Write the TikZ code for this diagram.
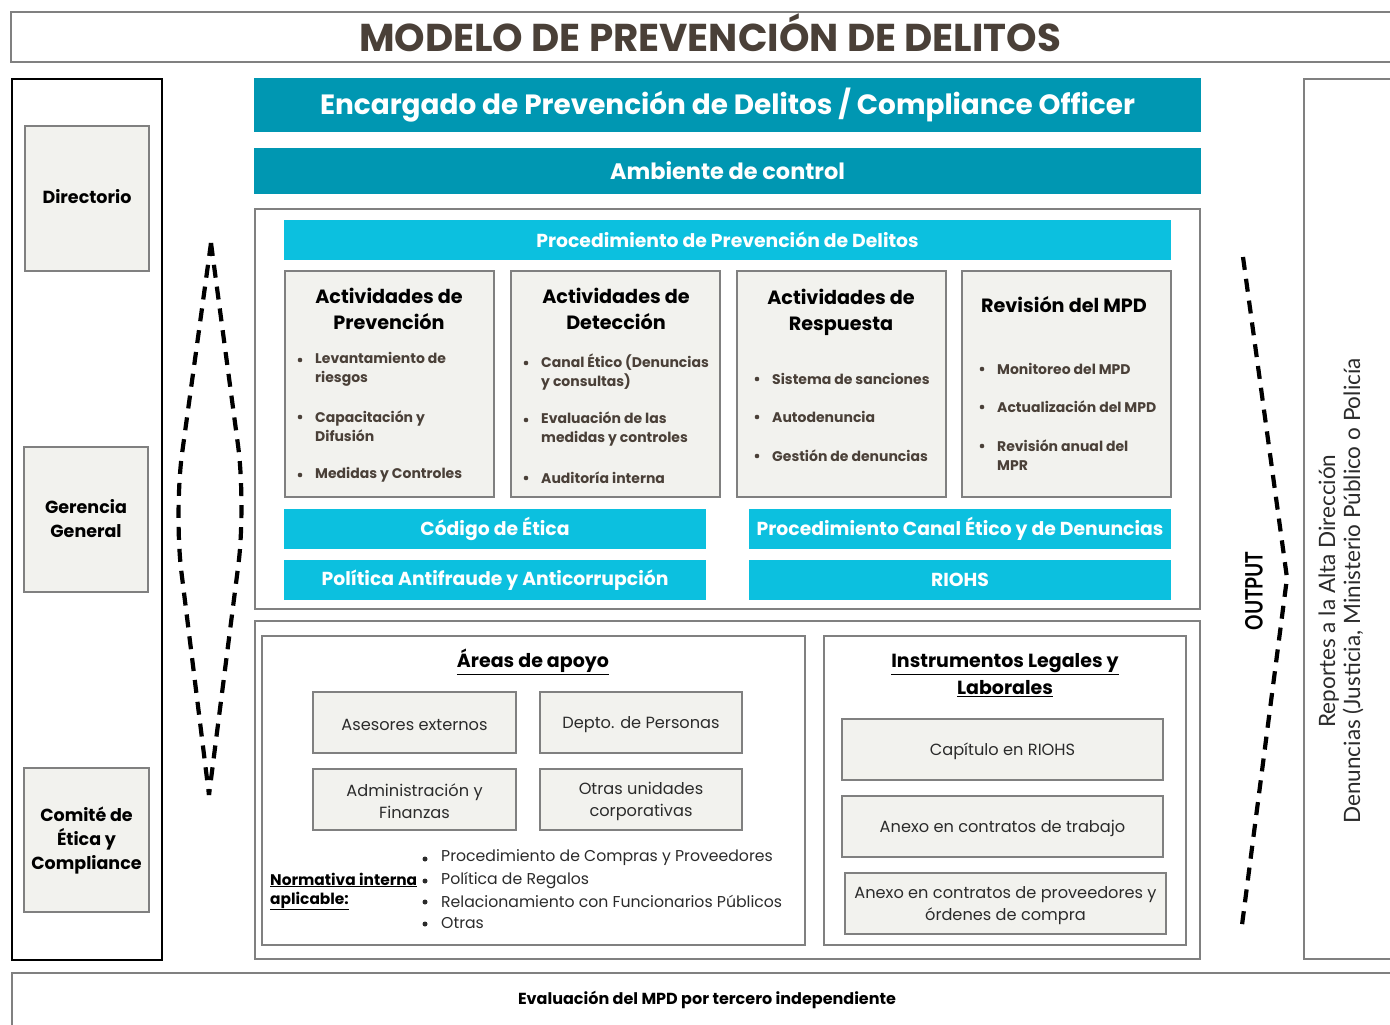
\documentclass[tikz,border=0pt]{standalone}
\usepackage{fontspec}
\setmainfont{Poppins}
\newfontfamily\narrowf[FakeStretch=0.8]{Lato}
\newfontfamily\rightf{Lato}
\usetikzlibrary{fit}
\definecolor{tealA}{HTML}{0097B2}
\definecolor{cyanA}{HTML}{0CC0DF}
\definecolor{boxfill}{HTML}{F2F2EE}
\definecolor{edgegray}{HTML}{808080}
\definecolor{titlebrown}{HTML}{4A4038}
\definecolor{bulletcol}{HTML}{4A4038}
\definecolor{txtgray}{HTML}{2B2B2B}
\begin{document}
\begin{tikzpicture}[x=1pt,y=-1pt,
  frame/.style={draw=edgegray, line width=2pt, inner sep=0pt},
  blackframe/.style={draw=black, line width=2.2pt, inner sep=0pt},
  graybox/.style={draw=edgegray, line width=2.4pt, fill=boxfill, inner sep=0pt},
  tealbar/.style={fill=tealA, inner sep=0pt},
  cyanbar/.style={fill=cyanA, inner sep=0pt},
  bartxt/.style={text=white, font=\bfseries\fontsize{18.8}{22}\selectfont},
  lefttxt/.style={font=\bfseries\fontsize{17.5}{24}\selectfont, align=center, text=black},
  acttitle/.style={font=\bfseries\fontsize{19.2}{26}\selectfont, align=center, text=black},
  bul/.style={circle, fill=bulletcol, inner sep=0pt, minimum size=4.6pt},
  itm/.style={font=\bfseries\fontsize{14}{19}\selectfont, text=bulletcol, align=left, anchor=west, inner sep=0pt},
  smalltxt/.style={font=\fontsize{16.2}{22}\selectfont, text=txtgray, align=center, yshift=-2pt},
  ultitle/.style={font=\bfseries\fontsize{19}{27}\selectfont, align=center, text=black},
  normtxt/.style={font=\fontsize{15.7}{21}\selectfont, text=txtgray, anchor=west, inner sep=0pt},
  nbul/.style={circle, fill=txtgray, inner sep=0pt, minimum size=5pt},
  normbold/.style={font=\bfseries\fontsize{15.4}{21}\selectfont, text=black, anchor=west, inner sep=0pt},
  dashline/.style={draw=black, line width=4.2pt, dash pattern=on 13pt off 9pt},
]
\useasboundingbox (0,0) rectangle (1390,1025);
\fill[white] (0,0) rectangle (1390,1025);

% title
\node[frame, fit={(11,12) (1400,62)}] (titlebox) {};
\node[font=\bfseries\fontsize{38.8}{42}\selectfont, text=titlebrown] (title) at (710,33) {MODELO DE PREVENCIÓN DE DELITOS};

% left column
\node[blackframe, fit={(12,79) (162,960)}] (leftcol) {};
\node[graybox, fit={(25,126) (149,271)}] (dir) {};
\node[lefttxt, yshift=2pt] (dirt) at (dir.center) {Directorio};
\node[graybox, fit={(24,447) (148,592)}] (ger) {};
\node[lefttxt, yshift=1pt] (gert) at (ger.center) {Gerencia\\General};
\node[graybox, fit={(24,768) (149,912)}] (com) {};
\node[lefttxt, yshift=-1pt] (comt) at (com.center) {Comité de\\Ética y\\Compliance};

% lens dashed
\coordinate (lensTop) at (211,243);
\coordinate (lensBot) at (209,795);
\coordinate (lensL) at (174,512);
\coordinate (lensR) at (246,505);
\draw[dashline, rounded corners=60pt] (lensTop) -- (lensL) -- (lensBot);
\draw[dashline, rounded corners=60pt] (lensTop) -- (lensR) -- (lensBot);

% top bars
\node[tealbar, fit={(254,78) (1201,132)}] (enc) {};
\node[text=white, font=\bfseries\fontsize{27.9}{32}\selectfont] (enct) at (enc.center) {Encargado de Prevención de Delitos / Compliance Officer};
\node[tealbar, fit={(254,148) (1201,194)}] (amb) {};
\node[text=white, font=\bfseries\fontsize{22.4}{26}\selectfont] (ambt) at (amb.center) {Ambiente de control};

% middle section
\node[frame, fit={(255,209) (1200,609)}] (mid) {};
\node[cyanbar, fit={(284,220) (1171,260)}] (ppd) {};
\node[bartxt] (ppdt) at (ppd.center) {Procedimiento de Prevención de Delitos};

\node[graybox, fit={(285,271) (494,497)}] (a1) {};
\node[acttitle] (a1t) at (389,309) {Actividades de\\Prevención};
\node[bul] (a1b1) at (300,360) {}; \node[itm] (a1i1) at (315,369.5) {Levantamiento de\\riesgos};
\node[bul] (a1b2) at (300,417) {}; \node[itm] (a1i2) at (315,426.5) {Capacitación y\\Difusión};
\node[bul] (a1b3) at (300,475) {}; \node[itm] (a1i3) at (315,475) {Medidas y Controles};

\node[graybox, fit={(511,271) (720,497)}] (a2) {};
\node[acttitle] (a2t) at (616,309) {Actividades de\\Detección};
\node[bul] (a2b1) at (526,363) {}; \node[itm] (a2i1) at (541,372.5) {Canal Ético (Denuncias\\y consultas)};
\node[bul] (a2b2) at (526,420) {}; \node[itm] (a2i2) at (541,429.5) {Evaluación de las\\medidas y controles};
\node[bul] (a2b3) at (526,478) {}; \node[itm] (a2i3) at (541,478) {Auditoría interna};

\node[graybox, fit={(737,271) (946,497)}] (a3) {};
\node[acttitle] (a3t) at (841,312) {Actividades de\\Respuesta};
\node[bul] (a3b1) at (757,379) {}; \node[itm] (a3i1) at (772,379) {Sistema de sanciones};
\node[bul] (a3b2) at (757,417) {}; \node[itm] (a3i2) at (772,417) {Autodenuncia};
\node[bul] (a3b3) at (757,456) {}; \node[itm] (a3i3) at (772,456) {Gestión de denuncias};

\node[graybox, fit={(962,271) (1171,497)}] (a4) {};
\node[acttitle] (a4t) at (1064,305) {Revisión del MPD};
\node[bul] (a4b1) at (982,369) {}; \node[itm] (a4i1) at (997,369) {Monitoreo del MPD};
\node[bul] (a4b2) at (982,407) {}; \node[itm] (a4i2) at (997,407) {Actualización del MPD};
\node[bul] (a4b3) at (982,446) {}; \node[itm] (a4i3) at (997,455.5) {Revisión anual del\\MPR};

\node[cyanbar, fit={(284,509) (706,549)}] (cod) {};
\node[bartxt] (codt) at (cod.center) {Código de Ética};
\node[cyanbar, fit={(749,509) (1171,549)}] (pce) {};
\node[bartxt] (pcet) at (pce.center) {Procedimiento Canal Ético y de Denuncias};
\node[cyanbar, fit={(284,560) (706,600)}] (pol) {};
\node[bartxt] (polt) at (pol.center) {Política Antifraude y Anticorrupción};
\node[cyanbar, fit={(749,560) (1171,600)}] (rio) {};
\node[bartxt] (riot) at (rio.center) {RIOHS};

% lower section
\node[frame, fit={(255,621) (1200,959)}] (low) {};
\node[frame, fit={(262,636) (805,945)}] (areas) {};
\node[ultitle] (areast) at (533,662) {\underline{Áreas de apoyo}};
\node[graybox, fit={(313,692) (516,753)}] (s1) {};
\node[smalltxt] (s1t) at (s1.center) {Asesores externos};
\node[graybox, fit={(540,692) (742,753)}] (s2) {};
\node[smalltxt] (s2t) at (s2.center) {Depto. de Personas};
\node[graybox, fit={(313,769) (516,830)}] (s3) {};
\node[smalltxt] (s3t) at (s3.center) {Administración y\\Finanzas};
\node[graybox, fit={(540,769) (742,830)}] (s4) {};
\node[smalltxt] (s4t) at (s4.center) {Otras unidades\\corporativas};

\node[normbold] (nor1) at (270,880) {\underline{Normativa interna}};
\node[normbold] (nor2) at (270,901) {\underline{aplicable:}};
\node[nbul] (nb1) at (425,859) {}; \node[normtxt] (ni1) at (441,858) {Procedimiento de Compras y Proveedores};
\node[nbul] (nb2) at (425,881) {}; \node[normtxt] (ni2) at (441,880) {Política de Regalos};
\node[nbul] (nb3) at (425,902) {}; \node[normtxt] (ni3) at (441,901) {Relacionamiento con Funcionarios Públicos};
\node[nbul] (nb4) at (425,924) {}; \node[normtxt] (ni4) at (441,923) {Otras};

\node[frame, fit={(824,636) (1186,945)}] (ins) {};
\node[ultitle] (inst) at (1005,675.5) {\underline{Instrumentos Legales y}\\\underline{Laborales}};
\node[graybox, fit={(842,719) (1163,780)}] (i1) {};
\node[smalltxt] (i1t) at (i1.center) {Capítulo en RIOHS};
\node[graybox, fit={(842,796) (1163,857)}] (i2) {};
\node[smalltxt] (i2t) at (i2.center) {Anexo en contratos de trabajo};
\node[graybox, fit={(845,873) (1166,934)}] (i3) {};
\node[smalltxt] (i3t) at (i3.center) {Anexo en contratos de proveedores y\\órdenes de compra};

% output
\coordinate (outTop) at (1243,257);
\coordinate (outMid) at (1287,578);
\coordinate (outBot) at (1242,925);
\draw[dashline] (outTop) -- (outMid) -- (outBot);
\node[rotate=90, font=\narrowf\bfseries\fontsize{24}{26}\selectfont] (outt) at (1254,591) {OUTPUT};

\node[frame, fit={(1304,79) (1400,959)}] (rbox) {};
\node[rotate=90, font=\rightf\fontsize{22.5}{25}\selectfont, align=center, text=txtgray] (rt) at (1341,591) {Reportes a la Alta Dirección\\Denuncias (Justicia, Ministerio Público o Policía};

% bottom
\node[frame, fit={(12,973) (1400,1035)}] (bot) {};
\node[font=\bfseries\fontsize{16}{18}\selectfont, text=black] (bott) at (707,1000) {Evaluación del MPD por tercero independiente};
\end{tikzpicture}
\end{document}
